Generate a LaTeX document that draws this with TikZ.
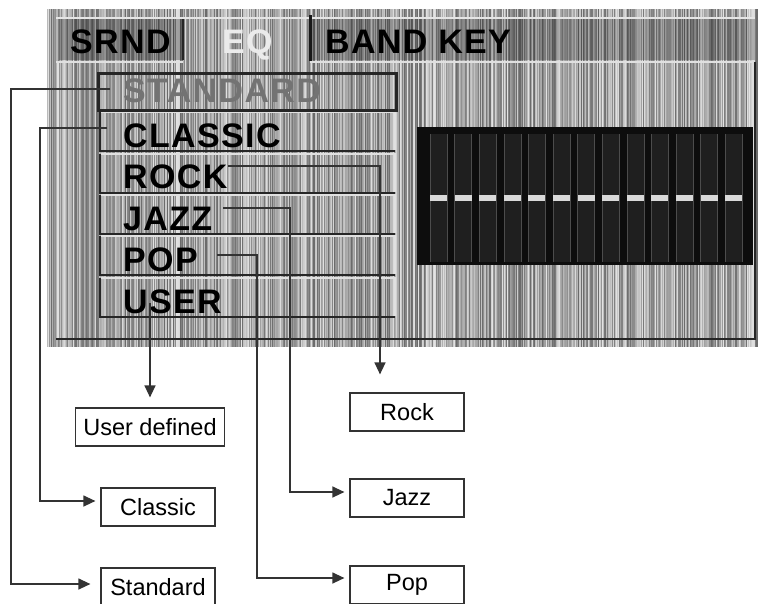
\documentclass[tikz,border=0pt]{standalone}
\usepackage{fontspec}
\setmainfont{Liberation Sans}
\newfontfamily\lcdfont{Liberation Sans}[LetterSpace=4]
\usetikzlibrary{arrows.meta}

\begin{document}
\begin{tikzpicture}[x=1pt,y=-1pt]
\tikzstyle{lcd}=[font=\fontsize{34}{34}\lcdfont\bfseries, inner sep=0pt, anchor=base west]
\tikzstyle{tag}=[draw=black!80, line width=1.2pt, font=\fontsize{23.5}{26}\selectfont, minimum width=114pt, minimum height=38pt, inner xsep=8pt, inner ysep=0pt]
\tikzstyle{lead}=[draw=black!80, line width=1.3pt, -{Triangle[length=12pt,width=11pt]}]

\useasboundingbox (0,0) rectangle (762,603);

% striped screen
\pgfmathsetseed{11}
\foreach \x in {48,...,757}{
  \pgfmathsetmacro{\g}{int(42+48*rnd)}
  \draw[white!\g!black, line width=1.05pt] (\x,9) -- (\x,347);
}
\draw[white!90!black, line width=1.5pt] (56,18) -- (755,18);
\fill[black, opacity=.28] (59,19) rectangle (183,60);
\fill[black, opacity=.22] (312,19) rectangle (755,60);
\draw[black!85, line width=1.5pt] (183,19) -- (183,60);
\draw[black!90, line width=3pt] (310,15) -- (310,61);
\draw[white!88!black, line width=2pt] (56,62) -- (183,62) (310,62) -- (755,62);
\draw[white!88!black, line width=1.5pt] (58,62) -- (58,338);
\draw[black!85, line width=1.5pt] (56,339) -- (755,339) -- (755,62);

% buttons
\foreach \t in {112,154,195,236,278}{
  \draw[white!88!black, line width=1.5pt] (101,\t) -- (395,\t) -- (395,\t+38);
  \draw[black!85, line width=2.5pt] (100,\t) -- (100,\t+39) -- (395,\t+39);
}
\draw[black!85, line width=3pt] (98,73) rectangle (396,110);

\node[lcd] (srnd) at (70,53) {SRND};
\node[lcd, text=white!92!black] (eq) at (222,53) {EQ};
\node[lcd] (bandkey) at (325,53) {BAND KEY};
\node[lcd, text=black!55] (standard) at (123,102) {STANDARD};
\node[lcd] (classic) at (123,147) {CLASSIC};
\node[lcd] (rock) at (123,188) {ROCK};
\node[lcd] (jazz) at (123,230) {JAZZ};
\node[lcd] (pop) at (123,271) {POP};
\node[lcd] (user) at (123,313) {USER};

% band display
\fill[black!95] (417,127) rectangle (753,265);
\foreach \i in {0,...,12}{
  \pgfmathsetmacro{\c}{430+24.6*\i}
  \fill[black!88] (\c,134) rectangle (\c+17,262);
  \draw[black!70, line width=.6pt] (\c,134) -- (\c,262) (\c+17,134) -- (\c+17,262);
  \fill[white!85!black] (\c,195) rectangle (\c+17,201);
}

% boxes
\node[tag] (userbox) at (150,427) {User defined};
\node[tag] (rockbox) at (407,412) {Rock};
\node[tag] (jazzbox) at (407,498) {Jazz};
\node[tag] (classicbox) at (158,507) {Classic};
\node[tag] (popbox) at (407,585) {Pop};
\node[tag] (stdbox) at (158,587) {Standard};

% leads
\coordinate (stdA) at (110,89);
\coordinate (claA) at (107,128);
\coordinate (rockA) at (228,166);
\coordinate (jazzA) at (223,208);
\coordinate (popA) at (217,255);
\coordinate (userA) at (150,303);

\draw[lead, shorten >=10pt] (stdA) -- ++(-99,0) |- ([yshift=3pt]stdbox.west);
\draw[lead, shorten >=5pt] (claA) -- ++(-67,0) |- ([yshift=6pt]classicbox.west);
\draw[lead, shorten >=10pt] (userA) -- (userbox.north);
\draw[lead, shorten >=18pt] (rockA) -| ([xshift=-27pt]rockbox.north);
\draw[lead, shorten >=5pt] (jazzA) -- ++(67,0) |- ([yshift=6pt]jazzbox.west);
\draw[lead, shorten >=5pt] (popA) -- ++(40,0) |- ([yshift=7pt]popbox.west);
\end{tikzpicture}
\end{document}
